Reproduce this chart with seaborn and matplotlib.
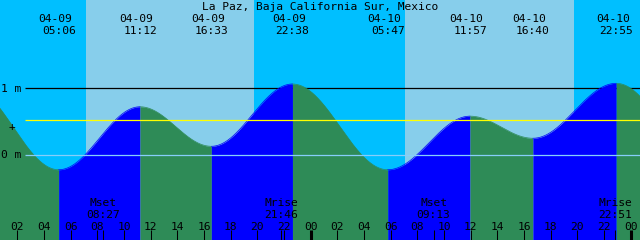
import numpy as np
import pandas as pd
import matplotlib
matplotlib.use("Agg")
import matplotlib.pyplot as plt
import matplotlib.transforms as mtransforms
import seaborn as sns

# ---------------- data ----------------
title = "La Paz, Baja California Sur, Mexico"
event_dates = ["04-09", "04-09", "04-09", "04-09", "04-10", "04-10", "04-10", "04-10"]
event_times = ["05:06", "11:12", "16:33", "22:38", "05:47", "11:57", "16:40", "22:55"]
event_heights = [-0.22, 0.72, 0.13, 1.06, -0.22, 0.58, 0.25, 1.07]
# extremes just outside the visible window (shape the curve at the edges)
edge_hours = [-1.67, 53.9]
edge_heights = [1.04, -0.20]

sunrise_times = ["07:09", "07:05"]
sunset_times = ["19:45", "19:45"]

moon_labels = ["Mset", "Mrise", "Mset", "Mrise"]
moon_times = ["08:27", "21:46", "09:13", "22:51"]
moon_days = [0, 0, 1, 1]

tick_labels = ["02", "04", "06", "08", "10", "12", "14", "16", "18", "20", "22", "00"] * 2
mean_level = 0.52
window = (0.7, 48.7)  # hours since 04-09 00:00


def clock(s, day=0):
    h, m = s.split(":")
    return day * 24 + int(h) + int(m) / 60.0


event_days = [0 if d == "04-09" else 1 for d in event_dates]
event_hours = [clock(t, d) for t, d in zip(event_times, event_days)]
ext_t = np.array([edge_hours[0]] + event_hours + [edge_hours[1]])
ext_h = np.array([edge_heights[0]] + event_heights + [edge_heights[1]])

# ---------------- curve (half-cosine between extremes) ----------------
rows = []
for i in range(len(ext_t) - 1):
    t0, t1 = ext_t[i], ext_t[i + 1]
    h0, h1 = ext_h[i], ext_h[i + 1]
    tt = np.linspace(t0, t1, 200)
    hh = h1 + (h0 - h1) * (1 + np.cos(np.pi * (tt - t0) / (t1 - t0))) / 2
    phase = "rising" if h1 > h0 else "falling"
    for a, b in zip(tt, hh):
        rows.append((a, b, i, phase))
df = pd.DataFrame(rows, columns=["t", "h", "seg", "phase"])

# ---------------- figure ----------------
sns.set_theme(style="white")
plt.rcParams["font.family"] = ["DejaVu Sans Mono"]
W, H = 640, 240
fig = plt.figure(figsize=(6.4, 2.4), dpi=100)
ax = fig.add_axes([0, 0, 1, 1])
ax.set_xlim(*window)
ymin, ymax = (155 - 240) / 67.0, 155 / 67.0
ax.set_ylim(ymin, ymax)
ax.axis("off")

night, day = "#00bfff", "#87ceeb"
green, blue = "#2e8b57", "#0000ff"

# sky
ax.axvspan(window[0], window[1], color=night, lw=0, zorder=0)
for r, s in zip(sunrise_times, sunset_times):
    pass
for d in range(2):
    ax.axvspan(clock(sunrise_times[d], d), clock(sunset_times[d], d), color=day, lw=0, zorder=0.5)

x_start = window[0] + 25 * 48 / 640.0
# 1 m line (behind water)
ax.hlines(1.0, x_start, window[1], color="black", lw=0.9, zorder=1)

# water fill
for seg, g in df.groupby("seg"):
    col = blue if g["phase"].iloc[0] == "rising" else green
    ax.fill_between(g["t"], ymin, g["h"], color=col, lw=0, zorder=2)
sns.lineplot(data=df, x="t", y="h", hue="phase", units="seg", estimator=None,
             palette={"rising": blue, "falling": green}, legend=False, lw=0.5,
             ax=ax, zorder=2.1)
ax.axis("off")
ax.set_xlim(*window)
ax.set_ylim(ymin, ymax)

# mean and datum lines
ax.hlines(mean_level, x_start, window[1], color="#ffff00", lw=0.9, zorder=3)
ax.hlines(0.0, x_start, window[1], color="#87cefa", lw=0.9, zorder=3)


def fy(p):
    return 1 - p / H


def py(p):
    return (155 - p) / 67.0


fs = 8.1
# title
fig.text(0.5, fy(9.5), title, ha="center", va="baseline", fontsize=fs, color="black")

# axis labels
fig.text(1 / W, fy(91.5), "1 m", ha="left", va="baseline", fontsize=fs, color="black")
fig.text(1 / W, fy(158.5), "0 m", ha="left", va="baseline", fontsize=fs, color="black")
fig.text(12 / W, fy(126.5), "+", ha="center", va="center", fontsize=fs, color="black")

blend = mtransforms.blended_transform_factory(ax.transData, fig.transFigure)
date_tr = mtransforms.offset_copy(blend, fig=fig, x=-3.5, y=0, units="dots")

for d, t, h in zip(event_dates, event_times, event_hours):
    ax.text(h, fy(21.7), d, transform=date_tr, ha="center", va="baseline", fontsize=fs, color="black", zorder=5)
    ax.text(h, fy(34.3), t, transform=blend, ha="center", va="baseline", fontsize=fs, color="black", zorder=5)

# moon events
moon_hours = [clock(t, d) for t, d in zip(moon_times, moon_days)]
for lab, t, h in zip(moon_labels, moon_times, moon_hours):
    ax.text(h, fy(206), lab, transform=blend, ha="center", va="baseline", fontsize=fs, color="black", zorder=5)
    ax.text(h, fy(218.3), t, transform=blend, ha="center", va="baseline", fontsize=fs, color="black", zorder=5)
    ax.vlines(h, ymin, py(230), color="black", lw=0.75, zorder=5)

# hour ticks
tick_hours = np.arange(2, 49, 2)
for h, lab in zip(tick_hours, tick_labels):
    ax.text(h, fy(230), lab, transform=blend, ha="center", va="baseline", fontsize=fs, color="black", zorder=5)
    ax.vlines(h, ymin, py(230), color="black", lw=2.2 if lab == "00" else 0.75, zorder=5)

fig.savefig("out.png", dpi=100)
